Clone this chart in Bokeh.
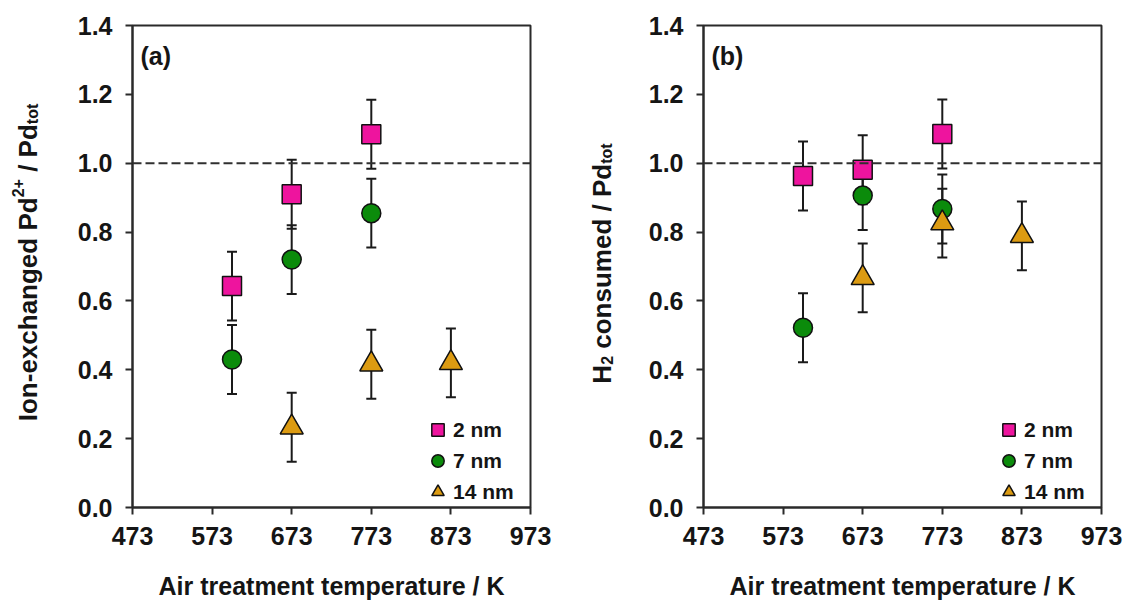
import math
from bokeh.plotting import figure
from bokeh.layouts import row
from bokeh.models import (Range1d, FixedTicker, PrintfTickFormatter, Whisker, TeeHead,
                          ColumnDataSource, Span, Label, Legend, LegendItem)
from bokeh.embed import file_html
from bokeh.resources import INLINE

# ---------------- data ----------------
size_labels = ["2 nm", "7 nm", "14 nm"]
temp_2nm = [598, 673, 773]
temp_7nm = [598, 673, 773]
temp_14nm = [673, 773, 873]

# panel (a): ion-exchanged Pd2+ / Pd_tot
ionex_2nm = [0.643, 0.910, 1.084]
ionex_7nm = [0.430, 0.720, 0.855]
ionex_14nm = [0.233, 0.416, 0.420]
ionex_err_2nm = [0.10, 0.10, 0.10]
ionex_err_7nm = [0.10, 0.10, 0.10]
ionex_err_14nm = [0.10, 0.10, 0.10]

# panel (b): H2 consumed / Pd_tot
h2_2nm = [0.963, 0.981, 1.085]
h2_7nm = [0.522, 0.906, 0.867]
h2_14nm = [0.667, 0.826, 0.789]
h2_err_2nm = [0.10, 0.10, 0.10]
h2_err_7nm = [0.10, 0.10, 0.10]
h2_err_14nm = [0.10, 0.10, 0.10]

x_ticks = [473, 573, 673, 773, 873, 973]
y_ticks = [0.0, 0.2, 0.4, 0.6, 0.8, 1.0, 1.2, 1.4]
ref_level = 1.0

# ---------------- style ----------------
FONT = "Liberation Sans"
TXT = "#151515"
PINK = "#EE149E"
GREEN = "#0B8B0B"
ORANGE = "#DC9B12"
AXC = "#2a2a2a"
X0, X1 = 473, 973
Y0, Y1 = 0.0, 1.4
FW, FH = 398, 482
TOP = 25
H = 603
NB = "\u00a0"

# Arial/Liberation Sans Bold advance widths (per 1000 em)
CW = {" ": 278, NB: 278, "(": 333, ")": 333, "+": 584, "-": 333, ".": 278, "/": 278,
      "A": 722, "H": 722, "I": 278, "K": 722, "P": 667,
      "a": 556, "b": 611, "c": 556, "d": 611, "e": 556, "g": 611, "h": 611,
      "i": 278, "m": 889, "n": 611, "o": 611, "p": 611, "r": 389, "s": 556,
      "t": 333, "u": 611, "x": 556}


def text_w(s, fs):
    return sum(CW.get(ch, 556) for ch in s) * fs / 1000.0


def title_strip(width, parts, center_y, base_x):
    """Narrow figure holding the rotated y-axis title (with super/subscripts).
    Its frame is aligned with the panels' frames; data units equal pixels
    (x from the strip's left edge, y upward from the frame bottom)."""
    t = figure(title=None, frame_width=width, frame_height=FH, x_range=Range1d(0, width),
               y_range=Range1d(0, FH), min_border_left=0, min_border_right=0,
               min_border_top=TOP, min_border_bottom=H - TOP - FH,
               x_axis_type=None, y_axis_type=None,
               output_backend="svg", toolbar_location=None, tools="")
    t.outline_line_color = None
    t.xgrid.visible = False
    t.ygrid.visible = False
    total = sum(text_w(s, fs) for s, fs, dx in parts)
    ypos = center_y + total / 2.0        # page pixel (from top) where the text starts
    for s, fs, dx in parts:
        t.add_layout(Label(x=base_x + dx, y=TOP + FH - ypos, text=s, angle=math.pi / 2,
                           text_font=FONT, text_font_style="bold",
                           text_font_size=f"{fs}px", text_color=TXT,
                           text_baseline="alphabetic", text_align="left"))
        ypos -= text_w(s, fs)
    return t


def make_panel(tag, series, bl, br):
    p = figure(frame_width=FW, frame_height=FH, min_border_left=bl, min_border_right=br,
               min_border_top=TOP, min_border_bottom=H - TOP - FH,
               x_range=Range1d(X0, X1), y_range=Range1d(Y0, Y1),
               output_backend="svg", toolbar_location=None, tools="")
    p.background_fill_color = "white"
    p.border_fill_color = "white"
    p.outline_line_color = AXC
    p.outline_line_width = 2
    p.xgrid.visible = False
    p.ygrid.visible = False

    def px_x(px):
        return X0 + (px - bl) * (X1 - X0) / FW

    def py_y(py):
        return Y1 - (py - TOP) * (Y1 - Y0) / FH

    for ax in (p.xaxis[0], p.yaxis[0]):
        ax.axis_line_color = AXC
        ax.axis_line_width = 2
        ax.major_tick_line_color = AXC
        ax.major_tick_line_width = 2
        ax.major_tick_out = 7
        ax.major_tick_in = 0
        ax.minor_tick_line_color = None
        ax.major_label_text_font = FONT
        ax.major_label_text_font_style = "bold"
        ax.major_label_text_font_size = "25px"
        ax.major_label_text_color = TXT

    p.xaxis.ticker = FixedTicker(ticks=x_ticks)
    p.yaxis.ticker = FixedTicker(ticks=y_ticks)
    p.yaxis.formatter = PrintfTickFormatter(format="%.1f")
    p.yaxis.major_label_standoff = 13
    p.xaxis.major_label_standoff = 12
    p.xaxis.axis_label = "Air treatment temperature / K"
    p.xaxis.axis_label_text_font = FONT
    p.xaxis.axis_label_text_font_style = "bold"
    p.xaxis.axis_label_text_font_size = "25px"
    p.xaxis.axis_label_text_color = TXT
    p.xaxis.axis_label_standoff = 24

    p.add_layout(Span(location=ref_level, dimension="width", line_color="#303030",
                      line_width=2, line_dash="9 4"))

    sources = []
    for (xs, ys, es, marker, color, msize) in series:
        src = ColumnDataSource(dict(x=xs, y=ys,
                                    upper=[v + e for v, e in zip(ys, es)],
                                    lower=[v - e for v, e in zip(ys, es)]))
        w = Whisker(source=src, base="x", upper="upper", lower="lower", dimension="height",
                    line_color="#1a1a1a", line_width=2,
                    upper_head=TeeHead(size=10, line_width=2, line_color="#1a1a1a"),
                    lower_head=TeeHead(size=10, line_width=2, line_color="#1a1a1a"),
                    level="underlay")
        p.add_layout(w)
        sources.append((src, marker, color, msize))

    rs = []
    for src, marker, color, msize in sources:
        r = p.scatter("x", "y", source=src, marker=marker, size=msize,
                      fill_color=color, line_color="#111111", line_width=1.5)
        rs.append(r)

    legend = Legend(items=[LegendItem(label=lab, renderers=[r]) for lab, r in zip(size_labels, rs)],
                    location=(290, 0), glyph_width=31, glyph_height=31, spacing=0,
                    label_standoff=0, padding=0, margin=0, border_line_color=None,
                    background_fill_alpha=0, label_text_font=FONT,
                    label_text_font_style="bold", label_text_font_size="21px",
                    label_text_color=TXT)
    p.add_layout(legend)

    p.add_layout(Label(x=px_x(bl + 8), y=py_y(55), text=tag, text_font=FONT,
                       text_font_style="bold", text_font_size="25px",
                       text_color=TXT, text_baseline="alphabetic", text_align="left"))
    return p


series_a = [
    (temp_2nm, ionex_2nm, ionex_err_2nm, "square", PINK, 19),
    (temp_7nm, ionex_7nm, ionex_err_7nm, "circle", GREEN, 19),
    (temp_14nm, ionex_14nm, ionex_err_14nm, "triangle", ORANGE, 23),
]
series_b = [
    (temp_2nm, h2_2nm, h2_err_2nm, "square", PINK, 19),
    (temp_7nm, h2_7nm, h2_err_7nm, "circle", GREEN, 19),
    (temp_14nm, h2_14nm, h2_err_14nm, "triangle", ORANGE, 23),
]

title_a = [("Ion-exchanged Pd", 26, 0), ("2+", 16, -10), (NB + "/" + NB + "Pd", 26, 0), ("tot", 16, 5)]
title_b = [("H", 26, 0), ("2", 16, 5), (NB + "consumed" + NB + "/" + NB + "Pd", 26, 0), ("tot", 16, 5)]

# page columns: [title a | panel a | title b | panel b]
ta = title_strip(60, title_a, 262, 27)
p1 = make_panel("(a)", series_a, 72, 33)
tb = title_strip(65, title_b, 263, 38)
p2 = make_panel("(b)", series_b, 75, 25)

layout = row(ta, p1, tb, p2)
open("out.html", "w").write(file_html(layout, INLINE))
